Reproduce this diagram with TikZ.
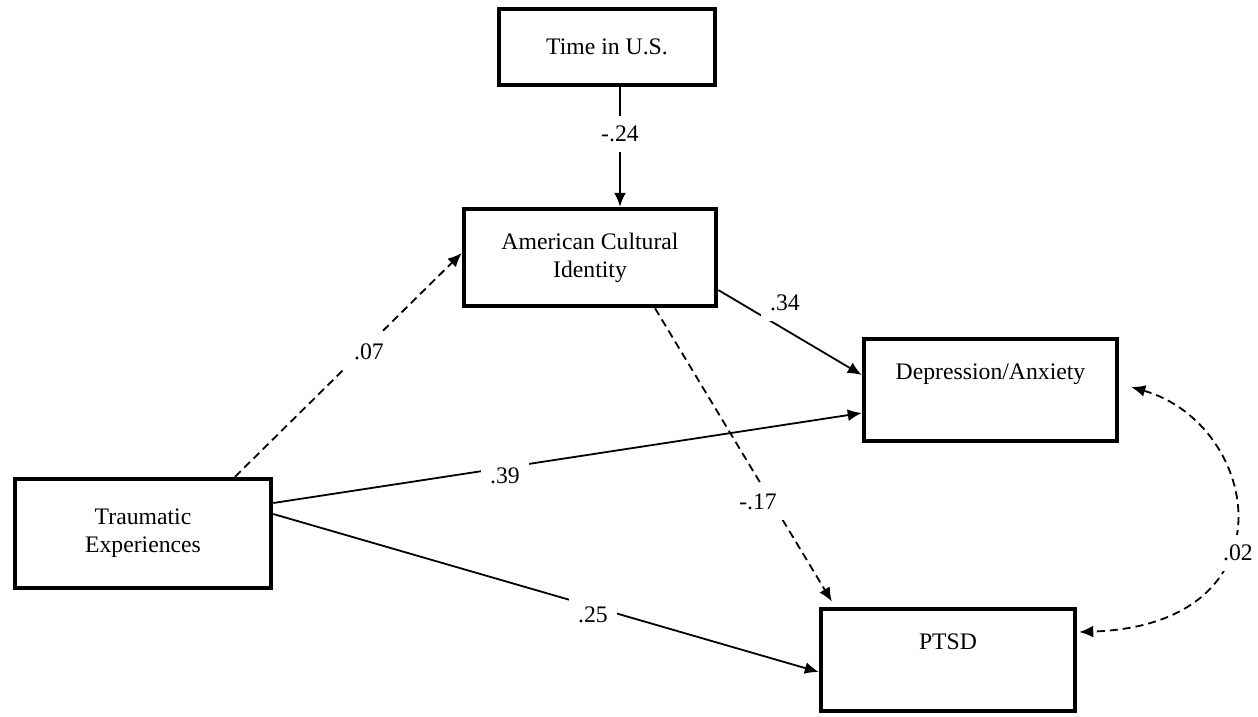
\documentclass[tikz,border=0pt]{standalone}
\usepackage{fontspec}
\setmainfont{Liberation Serif}
\usetikzlibrary{arrows.meta}
\begin{document}
\begin{tikzpicture}[x=1pt,y=-1pt,
  box/.style={draw=black,line width=4.5pt,rectangle,align=center,inner sep=0pt,
    font=\fontsize{23.7}{28}\selectfont},
  lbl/.style={fill=white,inner xsep=9pt,inner ysep=10pt,font=\fontsize{23.7}{28}\selectfont},
  path/.style={line width=1.8pt,-{Latex[length=14pt,width=12pt]}},
  dpath/.style={path,dash pattern=on 8pt off 5pt},
]
\useasboundingbox (0,0) rectangle (1258,716);
\node[box,minimum width=216pt,minimum height=76pt] (time) at (607,47) {Time in U.S.};
\node[box,minimum width=252pt,minimum height=97pt] (aci) at (590,257.5) {American Cultural\\Identity};
\node[box,minimum width=253pt,minimum height=102pt] (dep) at (990.5,390) {Depression/Anxiety\\[0pt]\strut};
\node[box,minimum width=254pt,minimum height=102pt] (ptsd) at (948,660) {PTSD\\[0pt]\strut};
\node[box,minimum width=256pt,minimum height=109pt] (trauma) at (143,533.5) {Traumatic\\Experiences};

\draw[path] ([xshift=13pt]time.south) -- ([xshift=30pt]aci.north);
\draw[path] ([yshift=-32.5pt]aci.east) -- ([yshift=15pt]dep.west);
\draw[dpath] ([xshift=92pt]trauma.north) -- ([yshift=4.5pt]aci.west);
\draw[path] ([yshift=30.5pt]trauma.east) -- ([yshift=-23pt]dep.west);
\draw[path] ([yshift=19.5pt]trauma.east) -- ([yshift=-12pt]ptsd.west);
\draw[dpath,shorten >=6pt] ([xshift=65pt]aci.south) -- ([xshift=-113pt]ptsd.north);
\draw[dpath,{Latex[length=14pt,width=12pt]}-{Latex[length=14pt,width=12pt]}]
  ([xshift=12pt,yshift=3pt]dep.east) .. controls (1262,425) and (1295,625) .. ([xshift=2pt,yshift=28pt]ptsd.east);

\node[lbl] (l24) at (620,134) {-.24};
\node[lbl] (l34) at (785,303) {.34};
\node[lbl] (l07) at (369,352) {.07};
\node[lbl] (l39) at (505,476) {.39};
\node[lbl] (l17) at (758,502) {-.17};
\node[lbl] (l25) at (593,615) {.25};
\node[lbl] (l02) at (1238,553) {.02};
\end{tikzpicture}
\end{document}
